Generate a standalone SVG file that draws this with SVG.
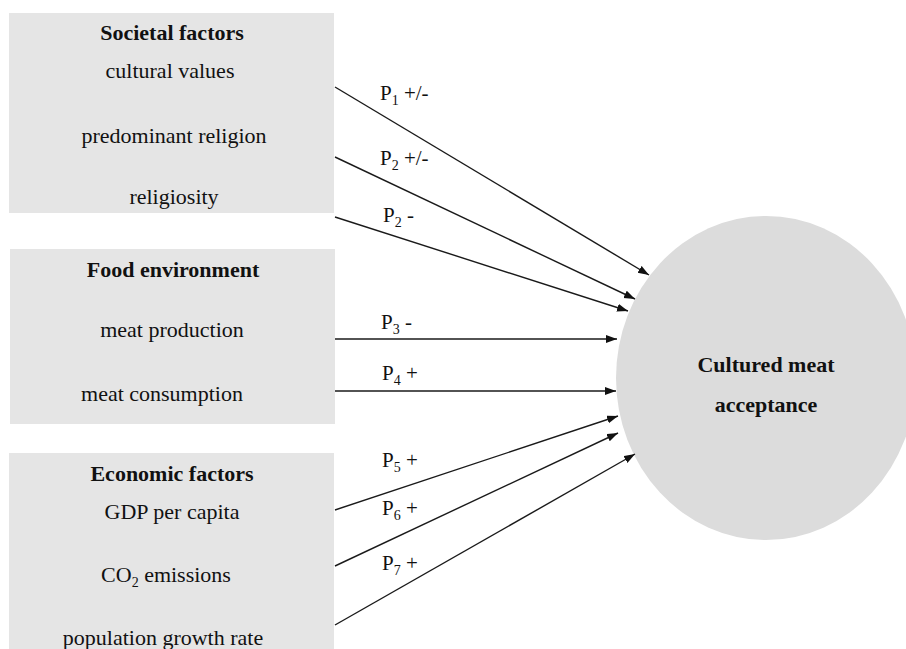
<svg xmlns="http://www.w3.org/2000/svg" width="906" height="649" viewBox="0 0 906 649">
<defs>
<style>
.box{fill:#e5e5e5}
.circ{fill:#dcdcdc}
text{font-family:"Liberation Serif","Times New Roman",serif;font-size:22px;fill:#111}
.b{font-weight:bold}
.m{text-anchor:middle}
.lbl{font-size:21px}
.sub{font-size:14px}
.c{stroke:#1a1a1a;stroke-width:1.4;fill:none;marker-end:url(#ah)}
</style>
<marker id="ah" markerUnits="userSpaceOnUse" markerWidth="12" markerHeight="9" refX="11" refY="4" orient="auto">
<path d="M0,0 L11,4 L0,8 z" fill="#111"/>
</marker>
</defs>
<rect width="906" height="649" fill="#fff"/>
<g id="societal">
<rect class="box" x="9" y="13" width="325" height="200"/>
<text class="b m" x="172" y="40">Societal factors</text>
<text class="m" x="170" y="78">cultural values</text>
<text class="m" x="174" y="143">predominant religion</text>
<text class="m" x="174" y="204">religiosity</text>
</g>
<g id="food">
<rect class="box" x="10" y="249" width="325" height="175"/>
<text class="b m" x="173" y="277">Food environment</text>
<text class="m" x="172" y="337">meat production</text>
<text class="m" x="162" y="401">meat consumption</text>
</g>
<g id="economic">
<rect class="box" x="9" y="453" width="325" height="196"/>
<text class="b m" x="172" y="481">Economic factors</text>
<text class="m" x="172" y="519">GDP per capita</text>
<text class="m" x="166" y="582">CO<tspan class="sub" dy="5">2</tspan><tspan dy="-5"> emissions</tspan></text>
<text class="m" x="163" y="645">population growth rate</text>
</g>
<g id="acceptance">
<ellipse class="circ" cx="766" cy="378" rx="150" ry="162"/>
<text class="b m" x="766" y="372">Cultured meat</text>
<text class="b m" x="766" y="412">acceptance</text>
</g>
<g id="connectors">
<line class="c" x1="335" y1="87" x2="649" y2="275"/>
<line class="c" x1="335" y1="157" x2="635" y2="299"/>
<line class="c" x1="335" y1="217" x2="628" y2="311"/>
<line class="c" x1="335" y1="339" x2="617" y2="339"/>
<line class="c" x1="335" y1="391" x2="616" y2="391"/>
<line class="c" x1="335" y1="510" x2="618" y2="416"/>
<line class="c" x1="335" y1="566" x2="618" y2="433"/>
<line class="c" x1="335" y1="625" x2="635" y2="454"/>
</g>
<g id="labels">
<text class="lbl" x="380" y="100">P<tspan class="sub" dy="5">1</tspan><tspan dy="-5"> +/-</tspan></text>
<text class="lbl" x="380" y="165">P<tspan class="sub" dy="5">2</tspan><tspan dy="-5"> +/-</tspan></text>
<text class="lbl" x="383" y="222">P<tspan class="sub" dy="5">2</tspan><tspan dy="-5"> -</tspan></text>
<text class="lbl" x="381" y="329">P<tspan class="sub" dy="5">3</tspan><tspan dy="-5"> -</tspan></text>
<text class="lbl" x="382" y="380">P<tspan class="sub" dy="5">4</tspan><tspan dy="-5"> +</tspan></text>
<text class="lbl" x="382" y="467">P<tspan class="sub" dy="5">5</tspan><tspan dy="-5"> +</tspan></text>
<text class="lbl" x="382" y="515">P<tspan class="sub" dy="5">6</tspan><tspan dy="-5"> +</tspan></text>
<text class="lbl" x="382" y="570">P<tspan class="sub" dy="5">7</tspan><tspan dy="-5"> +</tspan></text>
</g>
</svg>
